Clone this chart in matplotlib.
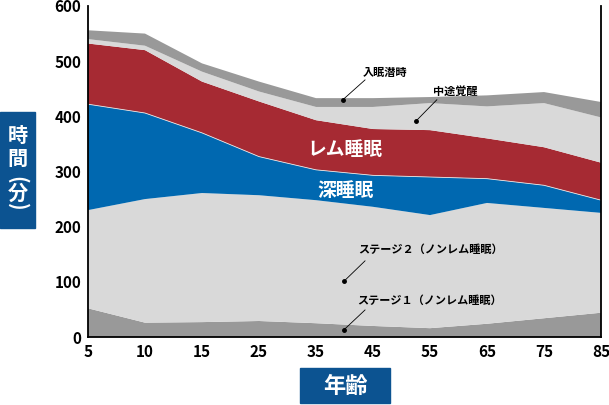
import matplotlib
matplotlib.use("Agg")
import matplotlib.pyplot as plt
from matplotlib.patches import Rectangle

plt.rcParams['font.family'] = ['Noto Sans CJK JP', 'DejaVu Sans']

# data (minutes per stage)
ages = ['5', '10', '15', '25', '35', '45', '55', '65', '75', '85']
stage1 = [52, 26, 27, 29, 25, 20, 16, 24, 34, 44]
stage2 = [178, 224, 234, 228, 223, 216, 205, 219, 200, 181]
deep = [192, 156, 109, 70, 55, 57, 69, 44, 41, 23]
rem = [110, 114, 93, 100, 90, 84, 85, 73, 69, 68]
wake = [8, 8, 18, 18, 24, 40, 49, 58, 80, 82]
latency = [16, 22, 15, 18, 16, 16, 11, 20, 20, 28]

colors = ['#999999', '#d9d9d9', '#0068b0', '#a62a33', '#d9d9d9', '#999999']
navy = '#0c5391'

W, H = 609, 405
fig = plt.figure(figsize=(W / 100, H / 100), dpi=100)
ax = fig.add_axes([88 / W, (H - 337) / H, 513 / W, 331 / H])

x = list(range(len(ages)))
ax.stackplot(x, stage1, stage2, deep, rem, wake, latency,
             colors=colors, linewidth=0)

# faint seam between deep and REM
deep_top = [a + b + c for a, b, c in zip(stage1, stage2, deep)]
ax.plot(x, deep_top, color='#e6e6e6', lw=0.6)

ax.set_xlim(0, len(ages) - 1)
ax.set_ylim(0, 600)
ax.set_xticks(x)
ax.set_xticklabels(ages)
ax.set_yticks(range(0, 601, 100))
ax.tick_params(length=0, labelsize=11, pad=5)
for lab in ax.get_xticklabels() + ax.get_yticklabels():
    lab.set_fontweight('bold')
ax.spines['top'].set_visible(False)
for s in ['left', 'right', 'bottom']:
    ax.spines[s].set_linewidth(1.3)

# big labels inside areas
ax.text(4.51, 339, 'レム睡眠', color='white', fontsize=13.5, fontweight='bold',
        ha='center', va='center')
ax.text(4.51, 266, '深睡眠', color='white', fontsize=13.5, fontweight='bold',
        ha='center', va='center')

# small callouts: (dot x, dot y, line end x, line end y, text x, text y, ha, label)
callouts = [
    (4.47, 430, 4.86, 466, 5.21, 480, 'center', '入眠潜時'),
    (5.75, 391, 6.12, 430, 6.44, 446, 'center', '中途覚醒'),
    (4.49, 101, 4.86, 138, 4.74, 158, 'left', 'ステージ２（ノンレム睡眠）'),
    (4.49, 13, 4.86, 49, 4.72, 67, 'left', 'ステージ１（ノンレム睡眠）'),
]
for dx, dy, lx, ly, tx, ty, ha, label in callouts:
    ax.plot([dx, lx], [dy, ly], color='black', lw=0.6)
    ax.plot(dx, dy, 'o', color='black', ms=2.5)
    ax.text(tx, ty, label, fontsize=8, fontweight='bold', ha=ha, va='center')

# y axis title box (vertical writing, parentheses turned sideways)
fig.patches.append(Rectangle((0, (H - 228) / H), 35 / W, 116 / H,
                             transform=fig.transFigure, color=navy))
for ch, yp, rot in [('時', 135, 0), ('間', 158, 0), ('(', 180, -90),
                    ('分', 193, 0), (')', 207, -90)]:
    fig.text(17.5 / W, (H - yp) / H, ch, color='white', fontsize=14.5,
             fontweight='bold', ha='center', va='center', rotation=rot,
             rotation_mode='anchor')

# x axis title box
fig.patches.append(Rectangle((300 / W, (H - 403) / H), 90 / W, 35 / H,
                             transform=fig.transFigure, color=navy))
fig.text(345 / W, (H - 386) / H, '年齢', color='white', fontsize=16,
         fontweight='bold', ha='center', va='center')

fig.savefig('out.png', dpi=100)
